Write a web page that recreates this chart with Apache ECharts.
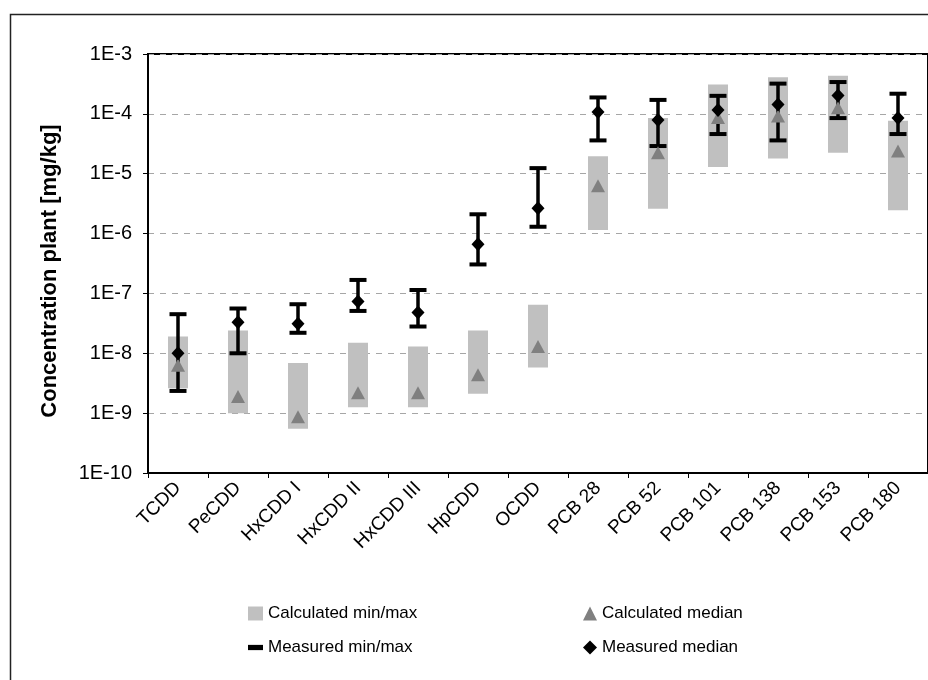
<!DOCTYPE html>
<html>
<head>
<meta charset="utf-8">
<script src="https://cdn.jsdelivr.net/npm/echarts@6/dist/echarts.min.js"></script>
<style>
html,body{margin:0;padding:0;background:#fff;}
#chart{width:928px;height:680px;}
</style>
</head>
<body>
<div id="chart"></div>
<script>
const categories = ['TCDD','PeCDD','HxCDD I','HxCDD II','HxCDD III','HpCDD','OCDD','PCB 28','PCB 52','PCB 101','PCB 138','PCB 153','PCB 180'];
const calcMin    = [2.6e-9, 1.0e-9, 5.5e-10, 1.25e-9, 1.25e-9, 2.1e-9, 5.8e-9, 1.15e-6, 2.6e-6, 1.3e-5, 1.8e-5, 2.25e-5, 2.45e-6];
const calcMax    = [1.9e-8, 2.4e-8, 6.9e-9, 1.5e-8, 1.3e-8, 2.4e-8, 6.5e-8, 1.95e-5, 8.5e-5, 3.1e-4, 4.1e-4, 4.35e-4, 7.7e-5];
const calcMedian = [6.3e-9, 1.9e-9, 8.7e-10, 2.2e-9, 2.2e-9, 4.4e-9, 1.3e-8, 6.3e-6, 2.25e-5, 8.7e-5, 9.2e-5, 1.26e-4, 2.4e-5];
const measMin    = [2.35e-9, 1.0e-8, 2.2e-8, 5.1e-8, 2.8e-8, 3.05e-7, 1.3e-6, 3.6e-5, 2.9e-5, 4.6e-5, 3.6e-5, 8.5e-5, 4.6e-5];
const measMax    = [4.5e-8, 5.6e-8, 6.6e-8, 1.68e-7, 1.14e-7, 2.1e-6, 1.24e-5, 1.88e-4, 1.71e-4, 2.0e-4, 3.2e-4, 3.4e-4, 2.17e-4];
const measMedian = [1.0e-8, 3.3e-8, 3.1e-8, 7.3e-8, 4.8e-8, 6.6e-7, 2.65e-6, 1.07e-4, 7.9e-5, 1.16e-4, 1.43e-4, 2.03e-4, 8.5e-5];

const FONT = 'Liberation Sans, Arial, sans-serif';
const chart = echarts.init(document.getElementById('chart'));

const calcRange = categories.map((c, i) => [i, calcMin[i], calcMax[i]]);
const measRange = categories.map((c, i) => [i, measMin[i], measMax[i]]);

const option = {
  backgroundColor: '#fff',
  animation: false,
  textStyle: { fontFamily: FONT },
  graphic: [{
    type: 'rect', z: -1, silent: true,
    shape: { x: 10.5, y: 14.5, width: 1000, height: 1000 },
    style: { fill: 'none', stroke: '#222', lineWidth: 1.5 }
  }],
  grid: {
    left: 148, top: 54, right: -4, bottom: 207,
    show: true, borderColor: '#000', borderWidth: 2, backgroundColor: 'transparent'
  },
  legend: [{
    orient: 'vertical', left: 243, top: 600, itemGap: 17,
    itemWidth: 15, itemHeight: 14,
    textStyle: { fontFamily: FONT, fontSize: 17, color: '#000' },
    data: [
      { name: 'Calculated min/max', icon: 'rect' },
      { name: 'Measured min/max', icon: 'path://M0,0 H10 V3.5 H0 Z' }
    ]
  }, {
    orient: 'vertical', left: 578, top: 600, itemGap: 17,
    itemWidth: 14, itemHeight: 14,
    textStyle: { fontFamily: FONT, fontSize: 17, color: '#000' },
    data: [
      { name: 'Calculated median', icon: 'triangle' },
      { name: 'Measured median', icon: 'diamond' }
    ]
  }],
  xAxis: {
    type: 'category',
    data: categories,
    boundaryGap: true,
    axisLine: { show: true, lineStyle: { color: '#000', width: 2 } },
    axisTick: { show: true, length: 5, lineStyle: { color: '#000', width: 1 } },
    axisLabel: { rotate: 45, fontSize: 19, color: '#000', fontFamily: FONT, margin: 12, interval: 0 },
    splitLine: { show: false }
  },
  yAxis: {
    type: 'log',
    logBase: 10,
    min: 1e-10,
    max: 1e-3,
    interval: 1,
    name: 'Concentration plant [mg/kg]',
    nameLocation: 'middle',
    nameGap: 87,
    nameTextStyle: { fontFamily: FONT, fontSize: 22, fontWeight: 'bold', color: '#000', padding: [0, 15, 0, 0] },
    axisLine: { show: true, lineStyle: { color: '#000', width: 2 } },
    axisTick: { show: true, length: 5, lineStyle: { color: '#000', width: 1 } },
    axisLabel: {
      fontSize: 20, color: '#000', fontFamily: FONT, margin: 16,
      formatter: v => '1E' + Math.round(Math.log10(v))
    },
    splitLine: { show: true, lineStyle: { color: '#a6a6a6', width: 1, type: [6, 6] } },
    minorTick: { show: false }
  },
  series: [{
    name: 'Calculated min/max',
    type: 'custom',
    itemStyle: { color: '#c0c0c0' },
    encode: { x: 0, y: [1, 2] },
    data: calcRange,
    z: 1,
    renderItem: function (params, api) {
      const i = api.value(0);
      const lo = api.coord([i, api.value(1)]);
      const hi = api.coord([i, api.value(2)]);
      const w = 20;
      return {
        type: 'rect',
        shape: { x: lo[0] - w / 2, y: hi[1], width: w, height: lo[1] - hi[1] },
        style: { fill: '#c0c0c0' }
      };
    }
  }, {
    name: 'Measured min/max',
    type: 'custom',
    itemStyle: { color: '#000' },
    encode: { x: 0, y: [1, 2] },
    data: measRange,
    z: 2,
    renderItem: function (params, api) {
      const i = api.value(0);
      const lo = api.coord([i, api.value(1)]);
      const hi = api.coord([i, api.value(2)]);
      const cw = 17;
      const st = { stroke: '#000', lineWidth: 3.5 };
      const cs = { stroke: '#000', lineWidth: 4 };
      return {
        type: 'group',
        children: [
          { type: 'line', shape: { x1: lo[0], y1: lo[1], x2: hi[0], y2: hi[1] }, style: st },
          { type: 'line', shape: { x1: lo[0] - cw / 2, y1: lo[1], x2: lo[0] + cw / 2, y2: lo[1] }, style: cs },
          { type: 'line', shape: { x1: hi[0] - cw / 2, y1: hi[1], x2: hi[0] + cw / 2, y2: hi[1] }, style: cs }
        ]
      };
    }
  }, {
    name: 'Calculated median',
    type: 'scatter',
    symbol: 'triangle',
    symbolSize: [14, 13],
    itemStyle: { color: '#808080', opacity: 1 },
    data: calcMedian,
    z: 3
  }, {
    name: 'Measured median',
    type: 'scatter',
    symbol: 'diamond',
    symbolSize: [13, 14],
    itemStyle: { color: '#000', opacity: 1 },
    data: measMedian,
    z: 4
  }]
};
chart.setOption(option);
</script>
</body>
</html>
